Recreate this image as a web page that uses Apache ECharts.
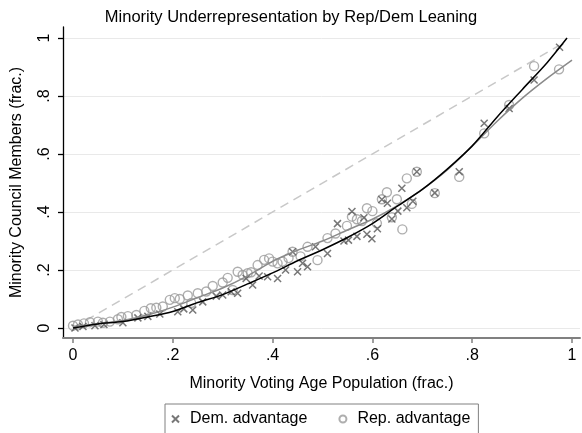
<!DOCTYPE html>
<html>
<head>
<meta charset="utf-8">
<script src="https://cdn.jsdelivr.net/npm/echarts@6/dist/echarts.min.js"></script>
<style>html,body{margin:0;padding:0;background:#fff}#c{width:582px;height:433px}</style>
</head>
<body>
<div id="c"></div>
<script>
const titleText = 'Minority Underrepresentation by Rep/Dem Leaning';
const xTitle = 'Minority Voting Age Population (frac.)';
const yTitle = 'Minority Council Members (frac.)';
const tickValues = [0, 0.2, 0.4, 0.6, 0.8, 1];
const tickLabels = ['0', '.2', '.4', '.6', '.8', '1'];

const demX = [0.004,0.020,0.044,0.062,0.100,0.130,0.150,0.174,0.210,0.222,0.240,0.260,0.287,0.300,0.317,0.330,0.347,0.360,0.373,0.390,0.410,0.426,0.440,0.450,0.460,0.470,0.486,0.510,0.530,0.543,0.552,0.559,0.569,0.583,0.589,0.599,0.610,0.619,0.630,0.639,0.651,0.659,0.669,0.681,0.689,0.725,0.774,0.824,0.874,0.924,0.975];
const demY = [0.000,0.005,0.008,0.012,0.018,0.035,0.040,0.048,0.056,0.066,0.062,0.090,0.110,0.114,0.125,0.120,0.171,0.148,0.179,0.177,0.171,0.200,0.263,0.194,0.223,0.211,0.280,0.257,0.360,0.300,0.303,0.402,0.316,0.380,0.323,0.308,0.342,0.443,0.430,0.376,0.403,0.482,0.415,0.437,0.539,0.466,0.539,0.706,0.757,0.855,0.968];

const repX = [0.000,0.010,0.022,0.034,0.050,0.060,0.074,0.090,0.097,0.110,0.127,0.143,0.156,0.167,0.180,0.194,0.204,0.214,0.230,0.237,0.250,0.267,0.280,0.300,0.310,0.320,0.330,0.340,0.350,0.357,0.370,0.383,0.393,0.400,0.410,0.420,0.432,0.440,0.456,0.470,0.490,0.510,0.526,0.549,0.559,0.569,0.579,0.589,0.600,0.609,0.619,0.629,0.639,0.649,0.660,0.669,0.679,0.689,0.725,0.774,0.824,0.874,0.924,0.974];
const repY = [0.008,0.012,0.016,0.020,0.022,0.018,0.022,0.030,0.038,0.041,0.045,0.059,0.068,0.070,0.074,0.097,0.103,0.100,0.112,0.086,0.120,0.126,0.145,0.157,0.173,0.131,0.194,0.183,0.189,0.192,0.217,0.235,0.240,0.229,0.223,0.229,0.241,0.263,0.247,0.280,0.234,0.310,0.326,0.352,0.384,0.375,0.369,0.413,0.403,0.361,0.444,0.468,0.382,0.444,0.340,0.516,0.428,0.539,0.465,0.521,0.671,0.769,0.903,0.892];

const demFitX = [0,0.05,0.10,0.15,0.20,0.25,0.30,0.35,0.40,0.45,0.50,0.55,0.60,0.65,0.70,0.75,0.80,0.85,0.90,0.95,0.99];
const demFitY = [0.000,0.014,0.022,0.038,0.057,0.088,0.115,0.152,0.190,0.232,0.270,0.312,0.360,0.420,0.478,0.548,0.628,0.728,0.822,0.915,1.000];
const repFitX = [0,0.05,0.10,0.15,0.20,0.25,0.30,0.35,0.40,0.45,0.50,0.55,0.60,0.65,0.70,0.75,0.80,0.85,0.90,0.95,1.00];
const repFitY = [0.005,0.015,0.026,0.045,0.072,0.105,0.138,0.180,0.230,0.268,0.300,0.338,0.375,0.422,0.478,0.545,0.627,0.713,0.792,0.861,0.924];
const refX = [0, 0.975];
const refY = [0, 0.975];

const zip = (a, b) => a.map((v, i) => [v, b[i]]);
const fmt = v => {
  const i = tickValues.findIndex(t => Math.abs(t - v) < 1e-6);
  return i >= 0 ? tickLabels[i] : '';
};
const FONT = 'Liberation Sans, Arial, sans-serif';

const chart = echarts.init(document.getElementById('c'), null, {renderer: 'canvas'});
chart.setOption({
  animation: false,
  backgroundColor: '#fff',
  title: {
    text: titleText, left: 'center', top: 4,
    textStyle: {fontFamily: FONT, fontSize: 16.5, fontWeight: 'normal', color: '#000'}
  },
  grid: {left: 63, right: 2, top: 27, bottom: 95, containLabel: false},
  xAxis: {
    type: 'value', min: -0.02, max: 1.016,
    name: xTitle, nameLocation: 'middle', nameGap: 38,
    nameTextStyle: {fontFamily: FONT, fontSize: 16, color: '#000'},
    axisLine: {onZero: false, lineStyle: {color: '#808080', width: 2}},
    axisTick: {show: true, length: 5, customValues: tickValues, lineStyle: {color: '#808080', width: 1.5}},
    axisLabel: {customValues: tickValues, formatter: fmt, margin: 10, fontFamily: FONT, fontSize: 16, color: '#000'},
    splitLine: {show: false}
  },
  yAxis: {
    type: 'value', min: -0.0345, max: 1.038,
    name: yTitle, nameLocation: 'middle', nameGap: 38, nameRotate: 90,
    nameTextStyle: {fontFamily: FONT, fontSize: 16, color: '#000'},
    axisLine: {show: true, onZero: false, lineStyle: {color: '#000', width: 1.3}},
    axisTick: {show: true, length: 5, customValues: tickValues, lineStyle: {color: '#000', width: 1.3}},
    axisLabel: {customValues: tickValues, formatter: fmt, rotate: 90, margin: 10, fontFamily: FONT, fontSize: 16, color: '#000'},
    splitLine: {show: true, lineStyle: {color: '#e9e9e9', width: 1}}
  },
  legend: {
    data: ['Dem. advantage', 'Rep. advantage'],
    left: 165, top: 404,
    orient: 'horizontal',
    padding: [7, 8, 12, 6],
    itemWidth: 7, itemHeight: 7, itemGap: 31,
    borderColor: '#808080', borderWidth: 1, borderRadius: 0,
    textStyle: {fontFamily: FONT, fontSize: 16, color: '#000', padding: [0, 0, 0, 6]}
  },
  series: [
    {
      name: 'ref', type: 'line', data: zip(refX, refY), symbol: 'none', silent: true,
      lineStyle: {color: '#c8c8c8', width: 1.5, type: [9, 6]}, z: 1
    },
    {
      name: 'Rep. advantage', type: 'scatter', data: zip(repX, repY),
      symbol: 'circle', symbolSize: 9,
      itemStyle: {color: 'rgba(0,0,0,0)', borderColor: '#9a9a9a', borderWidth: 1.4}, z: 2
    },
    {
      name: 'Dem. advantage', type: 'scatter', data: zip(demX, demY),
      symbol: 'path://M0,0L10,10M10,0L0,10', symbolSize: 7,
      itemStyle: {color: 'rgba(0,0,0,0)', borderColor: '#555', borderWidth: 1.5}, z: 3
    },
    {
      name: 'Rep fit', type: 'line', data: zip(repFitX, repFitY), symbol: 'none', smooth: 0.3, silent: true,
      lineStyle: {color: '#8a8a8a', width: 1.5}, z: 4
    },
    {
      name: 'Dem fit', type: 'line', data: zip(demFitX, demFitY), symbol: 'none', smooth: 0.3, silent: true,
      lineStyle: {color: '#000', width: 1.5}, z: 5
    }
  ]
});
</script>
</body>
</html>
